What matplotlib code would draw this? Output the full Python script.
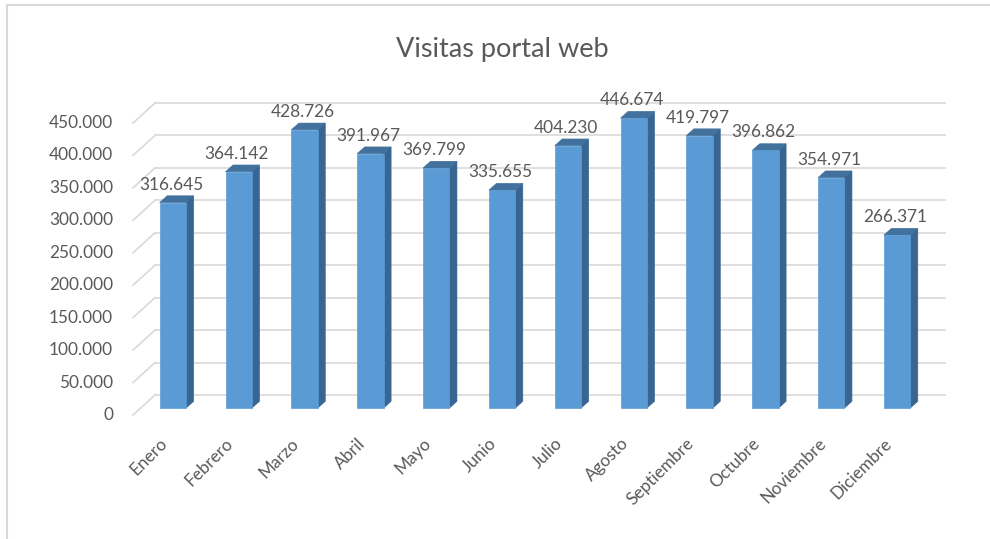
import numpy as np
import matplotlib
matplotlib.use("Agg")
import matplotlib.pyplot as plt
from matplotlib.patches import Polygon
from matplotlib.lines import Line2D


# Data
months = ['Enero', 'Febrero', 'Marzo', 'Abril', 'Mayo', 'Junio', 'Julio',
          'Agosto', 'Septiembre', 'Octubre', 'Noviembre', 'Diciembre']
visits = [316645, 364142, 428726, 391967, 369799, 335655, 404230,
          446674, 419797, 396862, 354971, 266371]
y_ticks = [0, 50000, 100000, 150000, 200000, 250000, 300000, 350000, 400000, 450000]

title = 'Visitas portal web'

# style
font = ['Lato', 'DejaVu Sans']
text_color = '#595959'
grid_color = '#d9d9d9'
front_color = '#5b9bd5'
side_color = '#386592'
top_color = '#41719c'
fs = 12.4

# pseudo 3D offsets in pixels (x right, y up)
wall_off = (-22, -20)     # front edge of side wall relative to back wall
bar_front = (-15, -13)    # bar front face relative to back wall
bar_back = (-7.5, -6.3)   # bar back face relative to back wall
bar_w = 0.4


def fmt(v):
    return f"{v:,}".replace(",", ".")


fig = plt.figure(figsize=(9.9, 5.39), dpi=100)
ax = fig.add_axes([155 / 990, 1 - 395 / 539, 790 / 990, 292 / 539])
ax.set_xlim(-0.5, len(months) - 0.5)
ax.set_ylim(0, 450000)
ax.axis('off')


def disp(x, y, off=(0, 0)):
    px, py = ax.transData.transform((x, y))
    return (px + off[0], py + off[1])


def draw_poly(pts, color):
    p = Polygon(pts, closed=True, facecolor=color, edgecolor=color, lw=0.5,
                transform=None, zorder=3)
    fig.patches.append(p)


# gridlines on back wall and left side wall
for v in y_ticks:
    x0, y0 = disp(-0.5, v)
    x1, y1 = disp(len(months) - 0.5, v)
    fig.lines.append(Line2D([x0, x1], [y0, y1], color=grid_color, lw=1.2,
                            transform=None, zorder=1))
    fig.lines.append(Line2D([x0 + wall_off[0], x0], [y0 + wall_off[1], y0],
                            color=grid_color, lw=1.2, transform=None, zorder=1))
    fig.text(x0 + wall_off[0] - 20, y0 + wall_off[1], fmt(v),
             transform=None, ha='right', va='center', fontsize=fs,
             color=text_color, family=font)

# bars
for i, v in enumerate(visits):
    l, r = i - bar_w / 2, i + bar_w / 2
    # side face
    draw_poly([disp(r, 0, bar_front), disp(r, 0, bar_back),
               disp(r, v, bar_back), disp(r, v, bar_front)], side_color)
    # top face
    draw_poly([disp(l, v, bar_front), disp(r, v, bar_front),
               disp(r, v, bar_back), disp(l, v, bar_back)], top_color)
    # front face
    draw_poly([disp(l, 0, bar_front), disp(r, 0, bar_front),
               disp(r, v, bar_front), disp(l, v, bar_front)], front_color)

    cx, cy = disp(i, v, bar_front)
    fig.text(cx - 2, cy + 10, fmt(v), transform=None, ha='center', va='bottom',
             fontsize=fs, color=text_color, family=font)

    bx, by = disp(i, 0, bar_front)
    fig.text(bx - 8, by - 33, months[i], transform=None, ha='right', va='center',
             rotation=45, rotation_mode='anchor', fontsize=fs,
             color=text_color, family=font)

fig.text(0.507, 1 - 50 / 539, title, ha='center', va='center', fontsize=19.5,
         color=text_color, family=font)

# light frame on top and left
fig.lines.append(Line2D([7, 7], [0, 539 - 5], color='#d9d9d9', lw=1.5, transform=None))
fig.lines.append(Line2D([7, 990], [539 - 5, 539 - 5], color='#d9d9d9', lw=1.5, transform=None))

fig.savefig('out.png', dpi=100, facecolor='white')
